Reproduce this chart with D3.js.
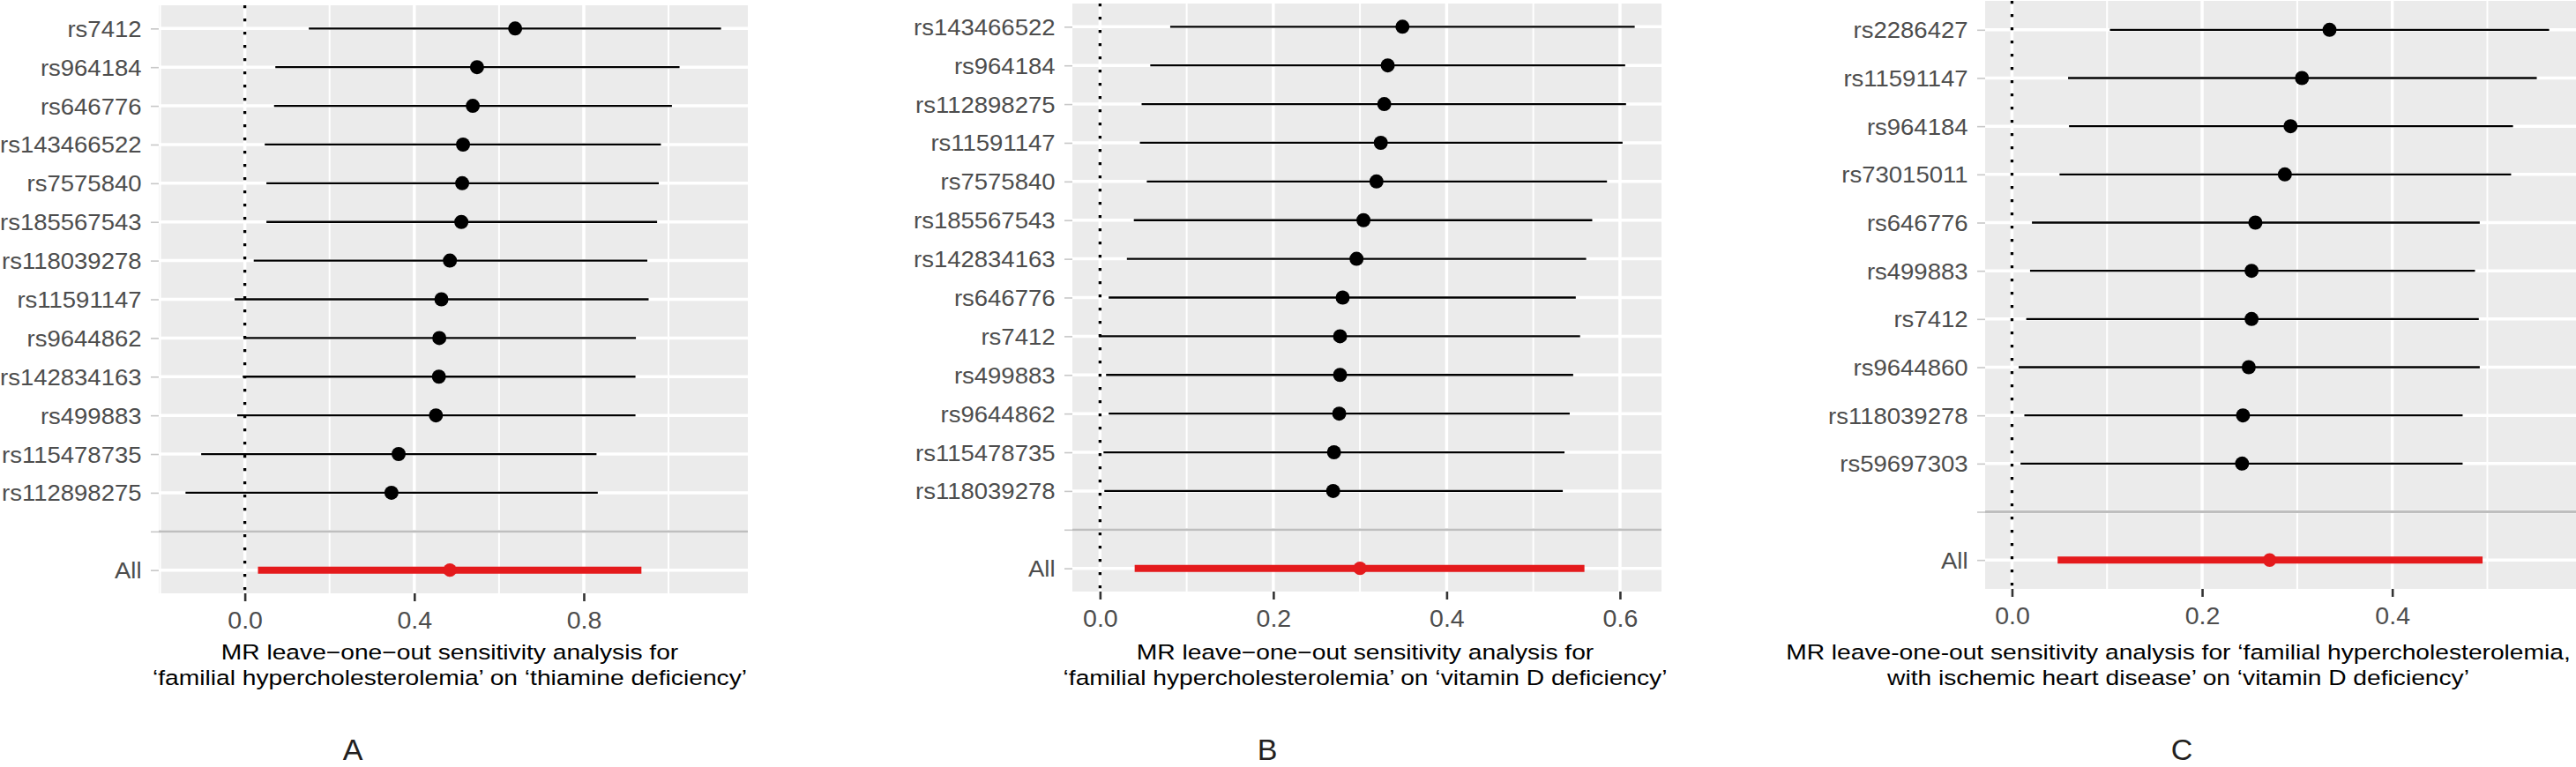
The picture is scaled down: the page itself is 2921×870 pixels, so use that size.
<!DOCTYPE html>
<html>
<head>
<meta charset="utf-8">
<script src="https://cdn.jsdelivr.net/npm/d3@7"></script>
<style>
body { margin: 0; background: #fff; }
svg text { font-family: "Liberation Sans", Arial, Helvetica, sans-serif; }
</style>
</head>
<body>
<div id="chart"></div>
<script>
// A: familial hypercholesterolemia -> thiamine deficiency
var snpsA  = ["rs7412", "rs964184", "rs646776", "rs143466522", "rs7575840", "rs185567543", "rs118039278",
              "rs11591147", "rs9644862", "rs142834163", "rs499883", "rs115478735", "rs112898275"];
var betaA  = [0.638, 0.548, 0.538, 0.515, 0.513, 0.511, 0.484, 0.464, 0.459, 0.458, 0.451, 0.363, 0.346];
var lowerA = [0.151, 0.072, 0.069, 0.047, 0.051, 0.051, 0.021, -0.024, -0.003, -0.005, -0.018, -0.103, -0.140];
var upperA = [1.124, 1.026, 1.008, 0.982, 0.977, 0.973, 0.950, 0.953, 0.923, 0.922, 0.922, 0.830, 0.833];
var allA   = [0.484, 0.031, 0.936];   // b, lower, upper
var ticksA = [0, 0.4, 0.8];
var titleA = ["MR leave\u2212one\u2212out sensitivity analysis for",
              "\u2018familial hypercholesterolemia\u2019 on \u2018thiamine deficiency\u2019"];

// B: familial hypercholesterolemia -> vitamin D deficiency
var snpsB  = ["rs143466522", "rs964184", "rs112898275", "rs11591147", "rs7575840", "rs185567543", "rs142834163",
              "rs646776", "rs7412", "rs499883", "rs9644862", "rs115478735", "rs118039278"];
var betaB  = [0.349, 0.332, 0.328, 0.324, 0.319, 0.304, 0.296, 0.280, 0.277, 0.277, 0.276, 0.270, 0.269];
var lowerB = [0.081, 0.058, 0.048, 0.046, 0.054, 0.039, 0.031, 0.010, -0.001, 0.007, 0.010, 0.004, 0.005];
var upperB = [0.617, 0.606, 0.607, 0.603, 0.585, 0.568, 0.561, 0.549, 0.554, 0.546, 0.542, 0.536, 0.534];
var allB   = [0.300, 0.040, 0.559];
var ticksB = [0, 0.2, 0.4, 0.6];
var titleB = ["MR leave\u2212one\u2212out sensitivity analysis for",
              "\u2018familial hypercholesterolemia\u2019 on \u2018vitamin D deficiency\u2019"];

// C: familial hypercholesterolemia with IHD -> vitamin D deficiency
var snpsC  = ["rs2286427", "rs11591147", "rs964184", "rs73015011", "rs646776", "rs499883", "rs7412",
              "rs9644860", "rs118039278", "rs59697303"];
var betaC  = [0.334, 0.305, 0.293, 0.287, 0.256, 0.252, 0.252, 0.249, 0.243, 0.242];
var lowerC = [0.103, 0.059, 0.060, 0.050, 0.021, 0.019, 0.015, 0.007, 0.013, 0.009];
var upperC = [0.565, 0.552, 0.527, 0.525, 0.492, 0.487, 0.491, 0.492, 0.474, 0.474];
var allC   = [0.271, 0.048, 0.495];
var ticksC = [0, 0.2, 0.4];
var titleC = ["MR leave-one-out sensitivity analysis for \u2018familial hypercholesterolemia,",
              "with ischemic heart disease\u2019 on \u2018vitamin D deficiency\u2019"];

var width = 2921, height = 870;

var svg = d3.select("#chart").append("svg")
    .attr("width", width)
    .attr("height", height);

svg.append("rect")
    .attr("width", width)
    .attr("height", height)
    .attr("fill", "#fff");

var panels = [
    {snps: snpsA, b: betaA, lo: lowerA, hi: upperA, all: allA, ticks: ticksA, title: titleA, tag: "A",
     left: 180, right: 848, top: 6, bottom: 673, titleX: 510, tagX: 400},
    {snps: snpsB, b: betaB, lo: lowerB, hi: upperB, all: allB, ticks: ticksB, title: titleB, tag: "B",
     left: 1216, right: 1884, top: 4, bottom: 671, titleX: 1548, tagX: 1437},
    {snps: snpsC, b: betaC, lo: lowerC, hi: upperC, all: allC, ticks: ticksC, title: titleC, tag: "C",
     left: 2251, right: 2921, top: 1, bottom: 668, titleX: 2470, tagX: 2474}
];

panels.forEach(drawPanel);

function drawPanel(p) {

    var rows = p.snps.map(function(s, i) {
        return {snp: s, b: p.b[i], lo: p.lo[i], hi: p.hi[i], tot: false};
    });
    rows.push({snp: "All", b: p.all[0], lo: p.all[1], hi: p.all[2], tot: true});

    // ggplot style: range incl. the 0 reference line, expanded by 5%
    var xmin = d3.min(rows, function(d) { return d.lo; });
    var xmax = d3.max(rows, function(d) { return d.hi; });
    xmin = Math.min(xmin, 0);
    xmax = Math.max(xmax, 0);
    var pad = (xmax - xmin) * 0.05;

    var x = d3.scaleLinear()
        .domain([xmin - pad, xmax + pad])
        .range([p.left, p.right]);

    var y = d3.scalePoint()
        .domain(p.snps.concat(["", "All"]))
        .range([p.top, p.bottom])
        .padding(0.6);

    var g = svg.append("g");

    g.append("rect")
        .attr("x", p.left)
        .attr("y", p.top)
        .attr("width", p.right - p.left)
        .attr("height", p.bottom - p.top)
        .attr("fill", "#ebebeb");

    var step = p.ticks[1] - p.ticks[0];
    var minor = d3.range(p.ticks[0] - step * 1.5, xmax + pad, step).filter(function(v) {
        return v >= xmin - pad;
    });

    g.selectAll(".minor").data(minor).enter().append("line")
        .attr("x1", function(d) { return x(d); })
        .attr("x2", function(d) { return x(d); })
        .attr("y1", p.top)
        .attr("y2", p.bottom)
        .attr("stroke", "#fff")
        .attr("stroke-width", 2);

    g.selectAll(".major").data(p.ticks).enter().append("line")
        .attr("x1", function(d) { return x(d); })
        .attr("x2", function(d) { return x(d); })
        .attr("y1", p.top)
        .attr("y2", p.bottom)
        .attr("stroke", "#fff")
        .attr("stroke-width", 3.5);

    g.selectAll(".hgrid").data(y.domain()).enter().append("line")
        .attr("x1", p.left)
        .attr("x2", p.right)
        .attr("y1", function(d) { return y(d); })
        .attr("y2", function(d) { return y(d); })
        .attr("stroke", "#fff")
        .attr("stroke-width", 3.5);

    // reference line at zero
    g.append("line")
        .attr("x1", x(0))
        .attr("x2", x(0))
        .attr("y1", p.top)
        .attr("y2", p.bottom)
        .attr("stroke", "#000")
        .attr("stroke-width", 3.3)
        .attr("stroke-dasharray", "3.3,11.7");

    g.selectAll(".bar").data(rows).enter().append("line")
        .attr("x1", function(d) { return x(d.lo); })
        .attr("x2", function(d) { return x(d.hi); })
        .attr("y1", function(d) { return y(d.snp); })
        .attr("y2", function(d) { return y(d.snp); })
        .attr("stroke", function(d) { return d.tot ? "#e41a1c" : "#000"; })
        .attr("stroke-width", function(d) { return d.tot ? 8 : 2.3; });

    g.selectAll(".pt").data(rows).enter().append("circle")
        .attr("cx", function(d) { return x(d.b); })
        .attr("cy", function(d) { return y(d.snp); })
        .attr("r", function(d) { return d.tot ? 7.7 : 8; })
        .attr("fill", function(d) { return d.tot ? "#e41a1c" : "#000"; });

    // divider between single SNPs and "All"
    g.append("line")
        .attr("x1", p.left)
        .attr("x2", p.right)
        .attr("y1", y(""))
        .attr("y2", y(""))
        .attr("stroke", "#bebebe")
        .attr("stroke-width", 2.8);

    var yax = g.append("g")
        .attr("transform", "translate(" + p.left + ",0)")
        .call(d3.axisLeft(y).tickSize(9).tickPadding(10));
    yax.select(".domain").remove();
    yax.selectAll(".tick line").attr("stroke", "#c8c8c8").attr("stroke-width", 1.6);
    yax.selectAll(".tick text")
        .attr("x", 0)
        .attr("dy", "0.36em")
        .attr("transform", "translate(-19.5,0) scale(1.1,1)")
        .attr("fill", "#4d4d4d")
        .style("font-size", "25px");

    var xax = g.append("g")
        .attr("transform", "translate(0," + p.bottom + ")")
        .call(d3.axisBottom(x).tickValues(p.ticks).tickFormat(d3.format(".1f")).tickSize(9).tickPadding(11));
    xax.select(".domain").remove();
    xax.selectAll(".tick line").attr("stroke", "#333").attr("stroke-width", 2.6);
    xax.selectAll(".tick text")
        .attr("fill", "#4d4d4d")
        .style("font-size", "28.5px");

    var title = g.append("text")
        .attr("transform", "translate(" + p.titleX + ",748) scale(1.2,1)")
        .attr("text-anchor", "middle")
        .attr("fill", "#000")
        .style("font-size", "23.5px");
    title.selectAll("tspan").data(p.title).enter().append("tspan")
        .attr("x", 0)
        .attr("dy", function(d, i) { return i === 0 ? 0 : 29; })
        .text(function(d) { return d; });

    g.append("text")
        .attr("x", p.tagX)
        .attr("y", 862)
        .attr("text-anchor", "middle")
        .attr("fill", "#231f20")
        .style("font-size", "34px")
        .text(p.tag);
}
</script>
</body>
</html>
